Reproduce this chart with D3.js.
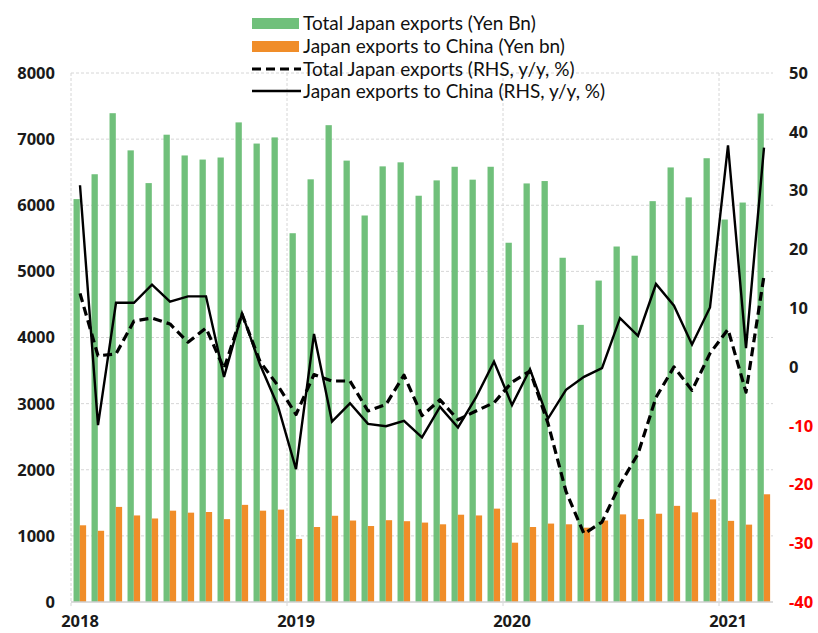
<!DOCTYPE html>
<html>
<head>
<meta charset="utf-8">
<script src="https://cdn.jsdelivr.net/npm/d3@7"></script>
<style>
  html, body { margin: 0; padding: 0; background: #fff; }
  svg { display: block; }
</style>
</head>
<body>
<svg id="chart" width="818" height="633"></svg>
<script>
// ---- Data ----
const months = [
  "2018-01","2018-02","2018-03","2018-04","2018-05","2018-06","2018-07","2018-08","2018-09","2018-10","2018-11","2018-12",
  "2019-01","2019-02","2019-03","2019-04","2019-05","2019-06","2019-07","2019-08","2019-09","2019-10","2019-11","2019-12",
  "2020-01","2020-02","2020-03","2020-04","2020-05","2020-06","2020-07","2020-08","2020-09","2020-10","2020-11","2020-12",
  "2021-01","2021-02","2021-03"
];
const totalExports = [
  6093,6469,7392,6830,6335,7067,6753,6691,6722,7253,6933,7026,
  5577,6392,7211,6675,5845,6588,6649,6144,6376,6582,6387,6582,
  5433,6330,6366,5206,4191,4861,5376,5237,6062,6572,6119,6711,
  5784,6041,7387
];
const chinaExports = [
  1160,1077,1438,1309,1263,1381,1351,1361,1253,1469,1381,1397,
  954,1134,1304,1232,1149,1237,1222,1201,1175,1320,1309,1412,
  897,1134,1186,1175,1124,1232,1325,1253,1335,1454,1356,1552,
  1227,1170,1629
];
const totalYoY = [
  12.5,1.9,2.2,7.8,8.3,7.3,4.2,6.6,-0.3,9.0,0.9,-3.2,
  -8.1,-1.3,-2.4,-2.4,-7.5,-6.4,-1.4,-8.3,-5.6,-9.0,-7.5,-6.1,
  -2.6,-0.7,-9.6,-21.2,-28.4,-26.4,-20.0,-14.8,-5.2,0.0,-4.0,2.3,
  6.4,-4.3,15.5
];
const chinaYoY = [
  30.9,-9.9,10.9,10.9,14.0,11.1,12.0,12.0,-1.7,9.1,0.4,-6.7,
  -17.4,5.6,-9.3,-6.2,-9.7,-10.1,-9.2,-12.0,-6.8,-10.3,-5.2,0.9,
  -6.5,-0.4,-8.8,-3.9,-1.7,-0.2,8.3,5.3,14.1,10.4,3.8,10.1,
  37.7,3.2,37.3
];
const yearTicks = ["2018-01","2019-01","2020-01","2021-01"];
const yearLabels = ["2018","2019","2020","2021"];
const leftTicks = [0,1000,2000,3000,4000,5000,6000,7000,8000];
const rightTicks = [-40,-30,-20,-10,0,10,20,30,40,50];
const seriesNames = [
  "Total Japan exports (Yen Bn)",
  "Japan exports to China (Yen bn)",
  "Total Japan exports (RHS, y/y, %)",
  "Japan exports to China (RHS, y/y, %)"
];

// ---- Layout ----
const svg = d3.select("#chart");
const M = { left: 71, right: 773, top: 73, bottom: 602 };
const GREEN = "#70c07b", ORANGE = "#f08d29", GRID = "#d6d6d6";
const tickFont = "'Open Sans', 'Liberation Sans', sans-serif";
const legFont = "Lato, 'Open Sans', sans-serif";

const x = d3.scaleBand().domain(months).range([M.left, M.right]).paddingInner(0).paddingOuter(0);
const bw = x.bandwidth();
const yL = d3.scaleLinear().domain([0, 8000]).range([M.bottom, M.top]);
const yR = d3.scaleLinear().domain([-40, 50]).range([M.bottom, M.top]);

const sub = d3.scaleBand().domain(["total","china"]).range([bw * 0.14, bw * 0.84]).paddingInner(0);

// Grid lines
const grid = svg.append("g");
grid.selectAll("line.h").data(leftTicks.filter(d => d > 0)).join("line")
  .attr("x1", M.left).attr("x2", M.right)
  .attr("y1", d => yL(d)).attr("y2", d => yL(d))
  .attr("stroke", GRID).attr("stroke-width", 1).attr("stroke-dasharray", "3,2");
grid.selectAll("line.v").data(yearTicks).join("line")
  .attr("x1", d => x(d)).attr("x2", d => x(d))
  .attr("y1", M.top).attr("y2", M.bottom + 4)
  .attr("stroke", GRID).attr("stroke-width", 1).attr("stroke-dasharray", "3,2");

// Bars
const rows = months.map((m, i) => ({ m, total: totalExports[i], china: chinaExports[i] }));
const bars = svg.append("g");
bars.selectAll("rect.t").data(rows).join("rect")
  .attr("x", d => x(d.m) + sub("total")).attr("width", sub.bandwidth())
  .attr("y", d => yL(d.total)).attr("height", d => yL(0) - yL(d.total))
  .attr("fill", GREEN);
bars.selectAll("rect.c").data(rows).join("rect")
  .attr("x", d => x(d.m) + sub("china")).attr("width", sub.bandwidth())
  .attr("y", d => yL(d.china)).attr("height", d => yL(0) - yL(d.china))
  .attr("fill", ORANGE);

// Baseline axis
svg.append("line").attr("x1", M.left).attr("x2", M.right)
  .attr("y1", M.bottom).attr("y2", M.bottom)
  .attr("stroke", "#cfcfcf").attr("stroke-width", 1.5);

// Lines
const cx = m => x(m) + bw / 2;
const lineTotal = d3.line().x((d, i) => cx(months[i])).y(d => yR(d));
svg.append("path").datum(totalYoY).attr("d", lineTotal)
  .attr("fill", "none").attr("stroke", "#000").attr("stroke-width", 3.2)
  .attr("stroke-dasharray", "9,5").attr("stroke-linejoin", "round");
svg.append("path").datum(chinaYoY).attr("d", lineTotal)
  .attr("fill", "none").attr("stroke", "#000").attr("stroke-width", 2.4)
  .attr("stroke-linejoin", "miter");

// Left axis labels
svg.append("g").selectAll("text").data(leftTicks).join("text")
  .attr("x", 55).attr("y", d => yL(d)).attr("dy", "0.36em")
  .attr("text-anchor", "end")
  .style("font-family", tickFont).style("font-weight", 700).style("font-size", "16.5px")
  .attr("fill", "#1a1a1a").text(d => d);

// Right axis labels
svg.append("g").selectAll("text").data(rightTicks).join("text")
  .attr("x", 789).attr("y", d => yR(d)).attr("dy", "0.36em")
  .attr("text-anchor", "start")
  .style("font-family", tickFont).style("font-weight", 700).style("font-size", "16.5px")
  .attr("fill", d => d < 0 ? "#ff0000" : "#1a1a1a").text(d => d);

// X axis labels
svg.append("g").selectAll("text").data(yearTicks).join("text")
  .attr("x", d => cx(d)).attr("y", 621).attr("dy", "0.36em")
  .attr("text-anchor", "middle")
  .style("font-family", tickFont).style("font-weight", 700).style("font-size", "16.5px")
  .attr("fill", "#1a1a1a").text((d, i) => yearLabels[i]);

// Legend
const leg = svg.append("g");
const legY = [23, 46, 69, 91];
const sx0 = 252, sx1 = 299, tx = 303;
leg.append("rect").attr("x", sx0).attr("y", legY[0] - 5).attr("width", sx1 - sx0).attr("height", 11).attr("fill", GREEN);
leg.append("rect").attr("x", sx0).attr("y", legY[1] - 5).attr("width", sx1 - sx0).attr("height", 11).attr("fill", ORANGE);
leg.append("line").attr("x1", sx0).attr("x2", sx1 + 2).attr("y1", legY[2]).attr("y2", legY[2])
  .attr("stroke", "#000").attr("stroke-width", 3.2).attr("stroke-dasharray", "9,5");
leg.append("line").attr("x1", sx0).attr("x2", sx1 + 2).attr("y1", legY[3]).attr("y2", legY[3])
  .attr("stroke", "#000").attr("stroke-width", 2.4);
leg.selectAll("text").data(seriesNames).join("text")
  .attr("x", tx).attr("y", (d, i) => legY[i]).attr("dy", "0.35em")
  .style("font-family", legFont).style("font-size", "19px")
  .attr("fill", "#111").text(d => d);
</script>
</body>
</html>
